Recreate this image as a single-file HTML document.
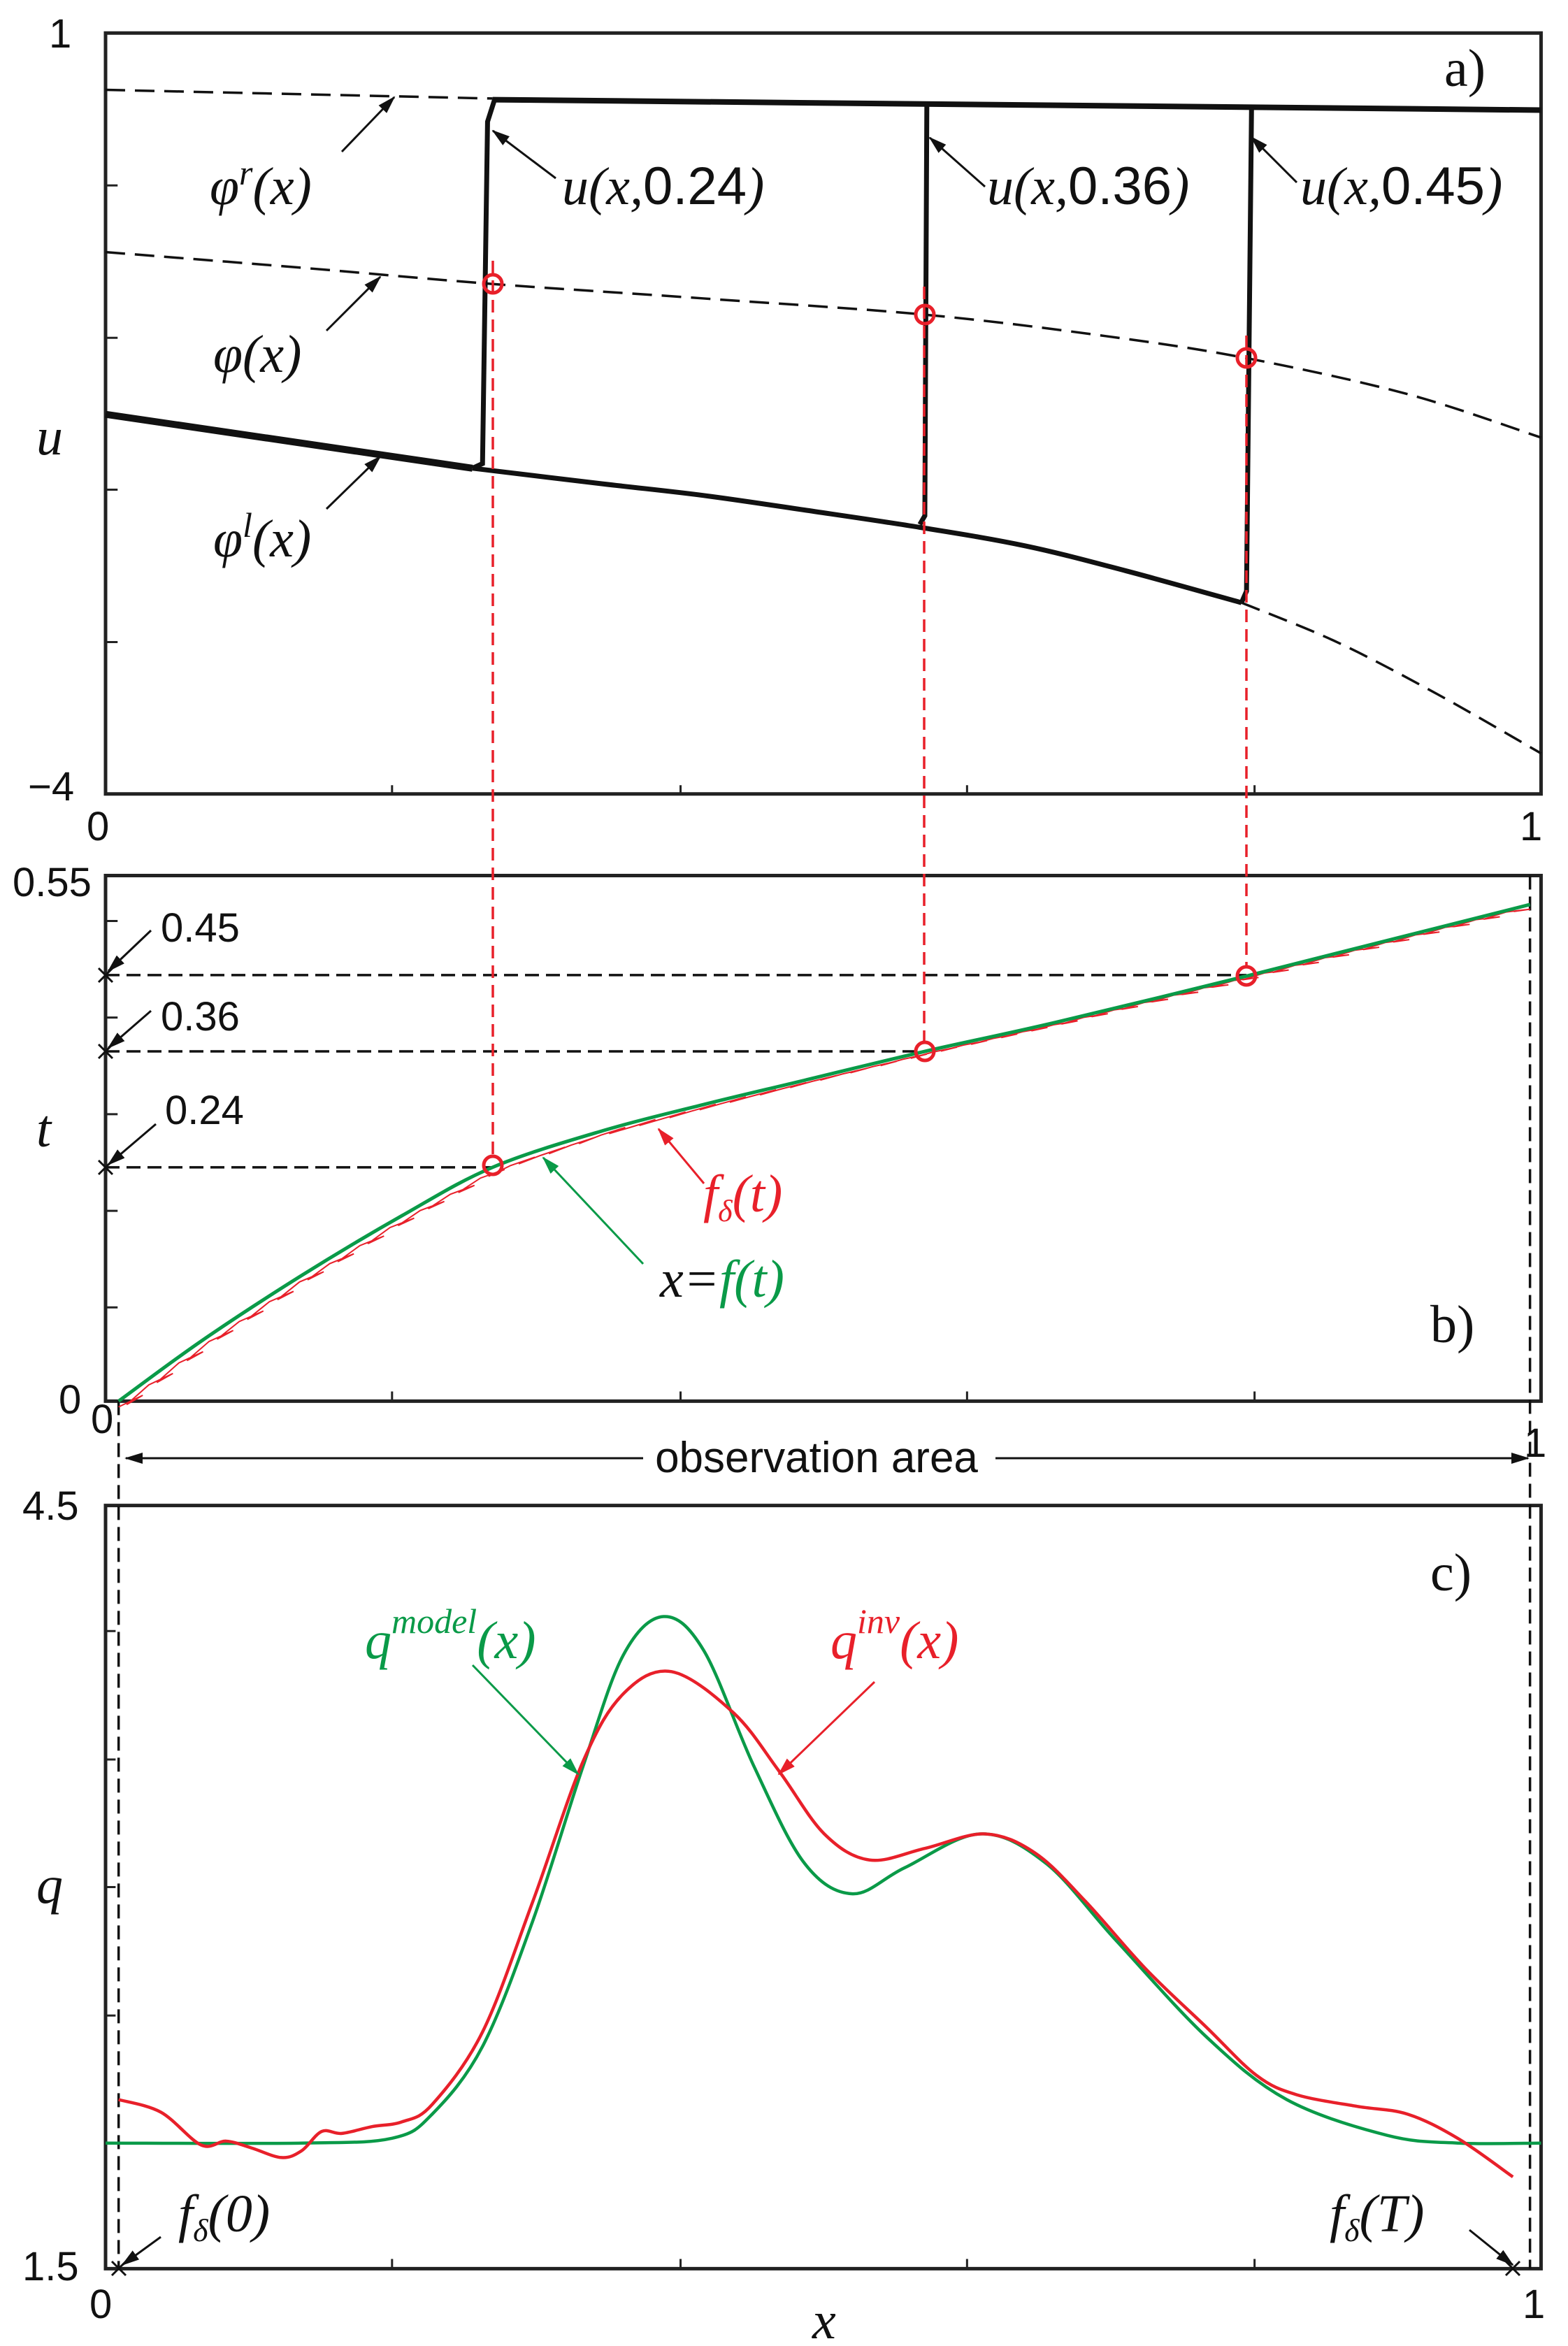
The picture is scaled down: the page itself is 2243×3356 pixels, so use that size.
<!DOCTYPE html>
<html><head><meta charset="utf-8"><style>
html,body{margin:0;padding:0;background:#fff}
svg{display:block}
.n{font-family:"Liberation Sans",sans-serif;font-size:58px;fill:#111}
.m{font-family:"Liberation Serif",serif;font-style:italic;font-size:76px;fill:#111}
.up{font-family:"Liberation Sans",sans-serif;font-style:normal}
.r{fill:#e8202a}.g{fill:#0a9a48}
.ns *{vector-effect:non-scaling-stroke}
</style></head><body>
<svg id="s" width="2243" height="3356" viewBox="0 0 2243 3356" xmlns="http://www.w3.org/2000/svg">
<defs>
<marker id="ak" markerWidth="26" markerHeight="16" refX="24" refY="8" orient="auto" markerUnits="userSpaceOnUse"><path d="M0,0 L26,8 L0,16 Z" fill="#111"/></marker>
<marker id="ar" markerWidth="26" markerHeight="16" refX="24" refY="8" orient="auto" markerUnits="userSpaceOnUse"><path d="M0,0 L26,8 L0,16 Z" fill="#e8202a"/></marker>
<marker id="ag" markerWidth="26" markerHeight="16" refX="24" refY="8" orient="auto" markerUnits="userSpaceOnUse"><path d="M0,0 L26,8 L0,16 Z" fill="#0a9a48"/></marker>
</defs>
<g class="ns" transform="matrix(1.438,0,0,0.829,0,0)">
<g fill="none" stroke="#222">
<rect x="105" y="57" width="1428" height="1313" stroke-width="5"/>
<path d="M105,320h12M105,583h12M105,845h12M105,1108h12M390,1370v-15M677,1370v-15M962,1370v-15M1248,1370v-15" stroke-width="3"/>
</g>
<g id="acurves" fill="none" stroke="#111"></g>
</g>
<g class="ns" transform="matrix(1.438,0,0,1.382,0,1200)">
<g fill="none" stroke="#222">
<rect x="105" y="38" width="1428" height="544" stroke-width="5"/>
<path d="M105,85h12M105,185h12M105,285h12M105,385h12M105,485h12M390,582v-10M677,582v-10M962,582v-10M1248,582v-10" stroke-width="3"/>
<rect x="105" y="690" width="1428" height="790" stroke-width="5"/>
<path d="M105,820h10M105,953h10M105,1085h10M105,1218h10M105,1350h10M390,1480v-10M677,1480v-10M962,1480v-10M1248,1480v-10" stroke-width="3"/>
</g>
<g stroke="#111" stroke-width="3.5" stroke-dasharray="20,10" fill="none">
<line x1="105" y1="141" x2="1240" y2="141"/>
<line x1="105" y1="220" x2="920" y2="220"/>
<line x1="105" y1="340" x2="490" y2="340"/>
<line x1="118" y1="582" x2="118" y2="1480"/>
<line x1="1522" y1="38" x2="1522" y2="1480"/>
</g>
<g id="bcurves" fill="none"></g>
</g>
<g stroke="#e8202a" stroke-width="3.5" stroke-dasharray="18,10" fill="none">
<line x1="705" y1="373" x2="705" y2="1655"/>
<line x1="1322" y1="410" x2="1322" y2="1492"/>
<line x1="1783" y1="480" x2="1783" y2="1384"/>
</g>
<g stroke="#e8202a" stroke-width="5" fill="none">
<circle cx="705" cy="406" r="13"/><circle cx="1323" cy="450" r="13"/><circle cx="1783" cy="512" r="13"/>
<circle cx="705" cy="1667" r="13"/><circle cx="1323" cy="1504" r="13"/><circle cx="1783" cy="1396" r="13"/>
</g>
<g stroke="#111" stroke-width="3" fill="none">
<line x1="489" y1="217" x2="564" y2="139" marker-end="url(#ak)"/>
<line x1="467" y1="473" x2="544" y2="396" marker-end="url(#ak)"/>
<line x1="467" y1="728" x2="544" y2="653" marker-end="url(#ak)"/>
<line x1="795" y1="255" x2="705" y2="187" marker-end="url(#ak)"/>
<line x1="1409" y1="267" x2="1330" y2="197" marker-end="url(#ak)"/>
<line x1="1855" y1="261" x2="1790" y2="196" marker-end="url(#ak)"/>
<line x1="216" y1="1331" x2="155" y2="1389" marker-end="url(#ak)"/>
<line x1="216" y1="1446" x2="155" y2="1499" marker-end="url(#ak)"/>
<line x1="223" y1="1608" x2="155" y2="1666" marker-end="url(#ak)"/>
<path d="M141,1385l20,20M161,1385l-20,20M141,1494l20,20M161,1494l-20,20M141,1660l20,20M161,1660l-20,20M160,3235l20,20M180,3235l-20,20M2154,3235l20,20M2174,3235l-20,20"/>
<line x1="920" y1="2086" x2="180" y2="2086" marker-end="url(#ak)"/>
<line x1="1424" y1="2086" x2="2186" y2="2086" marker-end="url(#ak)"/>
<line x1="230" y1="3200" x2="175" y2="3240" marker-end="url(#ak)"/>
<line x1="2102" y1="3190" x2="2164" y2="3240" marker-end="url(#ak)"/>
</g>
<line x1="1007" y1="1693" x2="942" y2="1615" stroke="#e8202a" stroke-width="3" marker-end="url(#ar)"/>
<line x1="920" y1="1808" x2="777" y2="1656" stroke="#0a9a48" stroke-width="3" marker-end="url(#ag)"/>
<line x1="676" y1="2382" x2="827" y2="2538" stroke="#0a9a48" stroke-width="3" marker-end="url(#ag)"/>
<line x1="1251" y1="2406" x2="1114" y2="2538" stroke="#e8202a" stroke-width="3" marker-end="url(#ar)"/>
<text class="n" x="70" y="68">1</text>
<text class="n" x="40" y="1145">−4</text>
<text class="n" x="124" y="1202">0</text>
<text class="n" x="2174" y="1202">1</text>
<text class="m" x="2066" y="123" style="font-style:normal">a)</text>
<text class="m" x="52" y="650">u</text>
<text class="m" x="300" y="292">φ<tspan dy="-28" font-size="50">r</tspan><tspan dy="28">(x)</tspan></text>
<text class="m" x="305" y="532">φ(x)</text>
<text class="m" x="305" y="796">φ<tspan dy="-28" font-size="50">l</tspan><tspan dy="28">(x)</tspan></text>
<text class="m" x="804" y="292">u(x,<tspan class="up">0.24</tspan>)</text>
<text class="m" x="1412" y="292">u(x,<tspan class="up">0.36</tspan>)</text>
<text class="m" x="1860" y="292">u(x,<tspan class="up">0.45</tspan>)</text>
<text class="n" x="18" y="1282">0.55</text>
<text class="n" x="84" y="2022">0</text>
<text class="n" x="130" y="2050">0</text>
<text class="n" x="2180" y="2084">1</text>
<text class="n" x="230" y="1347">0.45</text>
<text class="n" x="230" y="1474">0.36</text>
<text class="n" x="236" y="1608">0.24</text>
<text class="m" x="52" y="1640">t</text>
<text class="m" x="2046" y="1920" style="font-style:normal">b)</text>
<text class="m r" x="1006" y="1733">f<tspan dy="14" font-size="44">δ</tspan><tspan dy="-14">(t)</tspan></text>
<text class="m" x="944" y="1855">x=<tspan class="g">f(t)</tspan></text>
<rect x="920" y="2050" width="504" height="70" fill="#fff"/>
<text class="n" x="1168" y="2106" text-anchor="middle" style="font-size:62px">observation area</text>
<text class="n" x="32" y="2174">4.5</text>
<text class="n" x="32" y="3262">1.5</text>
<text class="n" x="128" y="3316">0</text>
<text class="n" x="2178" y="3316">1</text>
<text class="m" x="1162" y="3345">x</text>
<text class="m" x="52" y="2722">q</text>
<text class="m" x="2046" y="2275" style="font-style:normal">c)</text>
<text class="m g" x="522" y="2372">q<tspan dy="-36" font-size="50">model</tspan><tspan dy="36">(x)</tspan></text>
<text class="m r" x="1188" y="2372">q<tspan dy="-36" font-size="50">inv</tspan><tspan dy="36">(x)</tspan></text>
<text class="m" x="255" y="3192">f<tspan dy="14" font-size="46">δ</tspan><tspan dy="-14">(0)</tspan></text>
<text class="m" x="1902" y="3192">f<tspan dy="14" font-size="46">δ</tspan><tspan dy="-14">(T)</tspan></text>
</svg>
<script>
var NS="http://www.w3.org/2000/svg";
function sm(p){var d="M"+p[0][0]+","+p[0][1];for(var i=0;i<p.length-1;i++){var p0=p[i-1]||p[i],p1=p[i],p2=p[i+1],p3=p[i+2]||p2;
d+=" C"+(p1[0]+(p2[0]-p0[0])/6).toFixed(1)+","+(p1[1]+(p2[1]-p0[1])/6).toFixed(1)+" "+(p2[0]-(p3[0]-p1[0])/6).toFixed(1)+","+(p2[1]-(p3[1]-p1[1])/6).toFixed(1)+" "+p2[0]+","+p2[1];}return d;}
function P(g,d,a){var e=document.createElementNS(NS,"path");e.setAttribute("d",d);e.setAttribute("vector-effect","non-scaling-stroke");for(var k in a)e.setAttribute(k,a[k]);g.appendChild(e);}
var A=document.getElementById("acurves");
P(A,"M105,155 L490,170",{"stroke-width":3.5,"stroke-dasharray":"28,14"});
P(A,"M490,172 L1533,190",{"stroke-width":8});
P(A,sm([[105,435],[300,462],[490,490],[700,515],[920,543],[1100,580],[1240,618],[1400,680],[1533,755]]),{"stroke-width":3.5,"stroke-dasharray":"28,14"});
P(A,"M105,715 L380,785 L470,808",{"stroke-width":10});
P(A,sm([[470,808],[600,835],[700,855],[800,880],[915,910],[1020,942],[1120,985],[1235,1040]]),{"stroke-width":7});
P(A,sm([[1235,1040],[1330,1108],[1430,1198],[1533,1300]]),{"stroke-width":3.5,"stroke-dasharray":"28,14"});
P(A,"M470,808 L480,800 L485,210 L492,172",{"stroke-width":7});
P(A,"M915,905 L920,890 L922,178",{"stroke-width":7});
P(A,"M1235,1040 L1240,1020 L1245,185",{"stroke-width":7});
var B=document.getElementById("bcurves");
var gp=[[118,582],[200,520],[300,452],[400,390],[490,340],[600,302],[700,275],[800,250],[920,220],[1050,190],[1240,142],[1400,100],[1522,68]];
function gy(x){for(var i=0;i<gp.length-1;i++){if(x<=gp[i+1][0]){var t=(x-gp[i][0])/(gp[i+1][0]-gp[i][0]);return gp[i][1]+t*(gp[i+1][1]-gp[i][1]);}}return 68;}
var d="",x=118;while(x<1505){var y=gy(x),amp=Math.max(3,12*(1-(x-118)/1400));
d+=(d?" L":"M")+x.toFixed(1)+","+(y+amp*0.5).toFixed(1)+" L"+(x+24).toFixed(1)+","+(y-amp*0.5).toFixed(1)+" L"+(x+8).toFixed(1)+","+(y+amp*0.3).toFixed(1);x+=30;}
P(B,d,{stroke:"#e8202a","stroke-width":2});
P(B,sm(gp),{stroke:"#0a9a48","stroke-width":5});
P(B,sm([[105,1350],[300,1350],[390,1345],[430,1320],[480,1250],[530,1120],[580,960],[620,845],[660,805],[700,840],[750,960],[800,1060],[848,1092],[900,1065],[975,1030],[1040,1060],[1110,1140],[1200,1240],[1280,1305],[1380,1342],[1450,1350],[1533,1350]]),{stroke:"#0a9a48","stroke-width":4.5});
P(B,sm([[118,1305],[160,1318],[200,1352],[225,1348],[250,1355],[280,1365],[300,1358],[320,1338],[340,1340],[370,1333],[400,1328],[430,1310],[480,1235],[530,1100],[580,955],[620,885],[668,862],[730,905],[775,965],[820,1030],[865,1057],[920,1045],[980,1030],[1030,1050],[1080,1100],[1140,1170],[1200,1230],[1250,1280],[1290,1300],[1350,1312],[1400,1320],[1450,1345],[1505,1385]]),{stroke:"#e8202a","stroke-width":4.5});
</script>
</body></html>
